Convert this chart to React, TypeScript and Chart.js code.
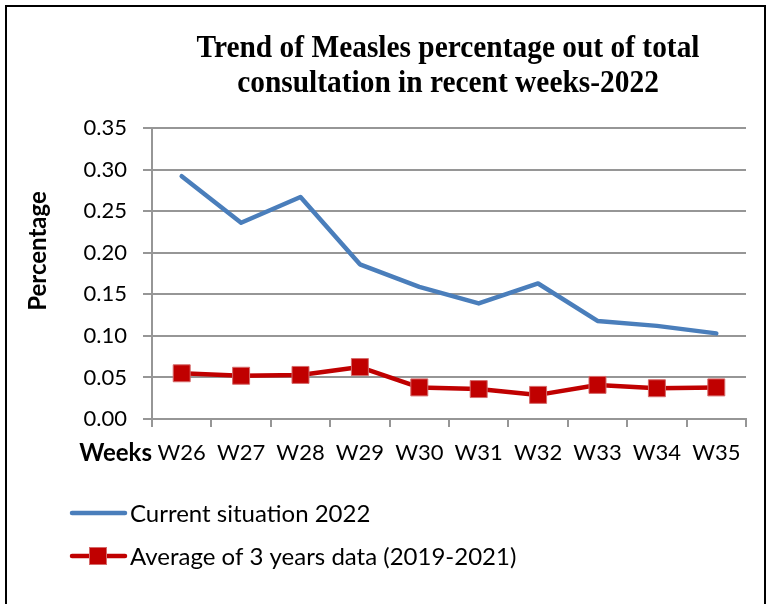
import React, { useEffect, useRef } from "react";
import { Chart, registerables } from "chart.js";

Chart.register(...registerables);

const weeks = ["W26", "W27", "W28", "W29", "W30", "W31", "W32", "W33", "W34", "W35"];
const current2022 = [0.292, 0.236, 0.267, 0.186, 0.159, 0.139, 0.163, 0.118, 0.112, 0.103];
const average3y = [0.055, 0.052, 0.053, 0.0625, 0.038, 0.036, 0.029, 0.041, 0.037, 0.038];
const seriesNames = ["Current situation 2022", "Average of 3 years data (2019-2021)"];
const titleLines = ["Trend of Measles percentage out of total", "consultation in recent weeks-2022"];
const yAxisTitle = "Percentage";
const xAxisTitle = "Weeks";
const yMin = 0;
const yMax = 0.35;
const yStep = 0.05;

const BLUE = "#4a7ebb";
const RED = "#c00000";
const RED_EDGE = "#d56a6a";
const GRID = "#969696";

const decorPlugin = {
  id: "decor",
  afterDraw(chart: any) {
    const ctx: CanvasRenderingContext2D = chart.ctx;
    const area = chart.chartArea;
    ctx.save();
    // outer frame (open at bottom)
    ctx.strokeStyle = "#000";
    ctx.lineWidth = 2;
    ctx.beginPath();
    ctx.moveTo(6, chart.height);
    ctx.lineTo(6, 6);
    ctx.lineTo(765, 6);
    ctx.lineTo(765, chart.height);
    ctx.stroke();

    // title
    ctx.fillStyle = "#000";
    ctx.font = "bold 32px 'Liberation Serif'";
    ctx.textAlign = "center";
    ctx.textBaseline = "alphabetic";
    const w1 = ctx.measureText(titleLines[0]).width;
    const sx = 503 / w1;
    titleLines.forEach((t, i) => {
      ctx.save();
      ctx.translate(448, 57 + i * 35);
      ctx.scale(sx, 1);
      ctx.fillText(t, 0, 0);
      ctx.restore();
    });

    // y axis title
    ctx.font = "bold 24px Lato";
    ctx.save();
    ctx.translate(38, 251);
    ctx.rotate(-Math.PI / 2);
    ctx.textAlign = "center";
    ctx.textBaseline = "middle";
    ctx.fillText(yAxisTitle, 0, 0);
    ctx.restore();

    // x axis title, left of the tick labels
    ctx.textAlign = "right";
    ctx.textBaseline = "middle";
    ctx.fillText(xAxisTitle, area.left, 453);

    // legend
    ctx.font = "24px Lato";
    ctx.textAlign = "left";
    chart.data.datasets.forEach((ds: any, i: number) => {
      const y = 513 + i * 43;
      ctx.strokeStyle = ds.borderColor;
      ctx.lineWidth = 4.5;
      ctx.lineCap = "round";
      ctx.beginPath();
      ctx.moveTo(72, y);
      ctx.lineTo(125, y);
      ctx.stroke();
      if (ds.pointRadius > 0) {
        ctx.fillStyle = ds.pointBackgroundColor;
        ctx.strokeStyle = ds.pointBorderColor;
        ctx.lineWidth = 1;
        ctx.fillRect(89, y - 9, 18, 18);
        ctx.strokeRect(89.5, y - 8.5, 17, 17);
      }
      ctx.fillStyle = "#000";
      ctx.fillText(ds.label, 130, y + 1);
    });
    ctx.restore();
  },
};

export default function App() {
  const ref = useRef<HTMLCanvasElement | null>(null);
  useEffect(() => {
    document.body.style.margin = "0";
    if (!ref.current) return;
    const chart = new Chart(ref.current, {
      type: "line",
      data: {
        labels: weeks,
        datasets: [
          {
            label: seriesNames[0],
            data: current2022,
            borderColor: BLUE,
            backgroundColor: BLUE,
            borderWidth: 4.5,
            pointRadius: 0,
            pointHoverRadius: 0,
            borderJoinStyle: "round",
            borderCapStyle: "round",
            tension: 0,
          },
          {
            label: seriesNames[1],
            data: average3y,
            borderColor: RED,
            backgroundColor: RED,
            borderWidth: 4.5,
            pointStyle: "rect",
            pointRadius: 12,
            pointBackgroundColor: RED,
            pointBorderColor: RED_EDGE,
            pointBorderWidth: 1,
            borderJoinStyle: "round",
            tension: 0,
          },
        ],
      },
      options: {
        responsive: false,
        animation: false,
        layout: { padding: { left: 0, right: 24, top: 128, bottom: 125 } },
        plugins: {
          legend: { display: false },
          title: { display: false },
          tooltip: { enabled: false },
        },
        scales: {
          x: {
            type: "category",
            offset: true,
            grid: {
              display: true,
              offset: true,
              drawOnChartArea: false,
              drawTicks: true,
              tickLength: 8,
              color: GRID,
              lineWidth: 2,
            },
            border: { display: true, color: GRID, width: 2 },
            ticks: {
              color: "#000",
              font: { family: "Lato", size: 22 },
              padding: 13,
              maxRotation: 0,
              autoSkip: false,
            },
            afterFit: (s: any) => {
              s.height = 60;
            },
          },
          y: {
            min: yMin,
            max: yMax,
            grid: { color: GRID, lineWidth: 2, tickLength: 9, drawTicks: true },
            border: { display: true, color: GRID, width: 2 },
            ticks: {
              stepSize: yStep,
              color: "#000",
              font: { family: "Lato", size: 22 },
              padding: 16,
              callback: (v: any) => Number(v).toFixed(2),
            },
            afterFit: (s: any) => {
              s.width = 152;
            },
          },
        },
      },
      plugins: [decorPlugin],
    });
    return () => chart.destroy();
  }, []);
  return <canvas ref={ref} width={770} height={604} style={{ display: "block" }} />;
}
